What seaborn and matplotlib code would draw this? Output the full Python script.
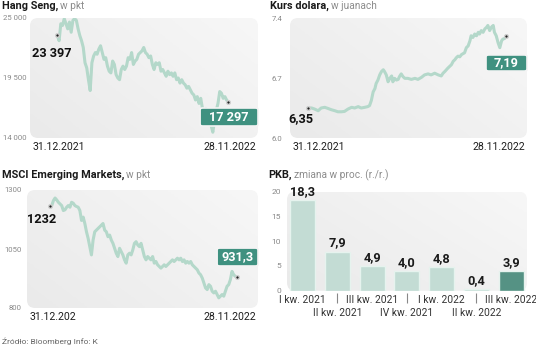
import numpy as np
import pandas as pd
import matplotlib
matplotlib.use("Agg")
import matplotlib.pyplot as plt
import seaborn as sns
from matplotlib.patches import FancyBboxPatch
from matplotlib.colors import LinearSegmentedColormap

# ---------------- data ----------------
hang_seng = [23397, 22918, 24472, 24316, 24938, 24472, 24006, 24627, 23695, 24783,
             24938, 24783, 24006, 23384, 22918, 22297, 20899, 20433, 19345, 18351,
             20899, 21520, 21831, 21676, 22142, 22453, 21831, 21210, 21365, 20588,
             20122, 19967, 21054, 20743, 19811, 19500, 19345, 20278, 20588, 20278,
             20588, 21365, 21210, 21831, 20743, 21054, 21210, 21676, 21831, 21986,
             22297, 21831, 21676, 21365, 21520, 20743, 20278, 20899, 20743, 20899,
             20122, 20278, 19967, 19656, 20122, 19811, 19967, 19656, 19967, 19345,
             19500, 19034, 19345, 19034, 18879, 18568, 18724, 18413, 18103, 17947,
             17481, 17792, 17170, 17636, 16704, 16549, 16704, 16238, 16083, 15151,
             14530, 15617, 16549, 17170, 18258, 18103, 17636, 17792, 17481, 17297]

kurs_days = [0, 6, 11, 17, 22, 28, 33, 39, 45, 50, 56, 61, 67, 73, 78, 84, 89, 95, 100,
             103, 106, 109, 112, 114, 117, 120, 123, 126, 128, 131, 134, 137, 140, 142,
             145, 148, 151, 153, 156, 159, 162, 167, 173, 179, 184, 190, 195, 201, 206,
             212, 218, 223, 226, 229, 234, 240, 243, 246, 248, 251, 254, 257, 262, 265,
             268, 271, 273, 276, 279, 282, 285, 287, 290, 293, 296, 299, 301, 304, 307,
             310, 312, 315, 318, 321, 324, 326, 329, 332]
kurs = [6.350, 6.350, 6.338, 6.318, 6.350, 6.358, 6.346, 6.330, 6.318, 6.306, 6.306,
        6.310, 6.338, 6.358, 6.350, 6.366, 6.350, 6.358, 6.366,
        6.378, 6.438, 6.537, 6.577, 6.636, 6.676, 6.736, 6.776, 6.796, 6.776, 6.736,
        6.656, 6.696, 6.724, 6.656, 6.696, 6.676, 6.684, 6.716, 6.748, 6.716, 6.696,
        6.696, 6.684, 6.696, 6.684, 6.708, 6.736, 6.748, 6.736, 6.756, 6.736, 6.724,
        6.756, 6.776, 6.815, 6.855, 6.895, 6.915, 6.935, 6.955, 6.947, 6.974, 6.994,
        7.054, 7.074, 7.134, 7.193, 7.173, 7.213, 7.193, 7.233, 7.213, 7.253, 7.233,
        7.273, 7.293, 7.313, 7.253, 7.293, 7.313, 7.233, 7.193, 7.114, 7.054, 7.134,
        7.153, 7.161, 7.190]

msci = [1232, 1234, 1255, 1266, 1258, 1248, 1241, 1234, 1213, 1216, 1227, 1234, 1227,
        1248, 1244, 1234, 1230, 1227, 1213, 1171, 1185, 1158, 1123, 1095, 1060, 1025,
        1088, 1123, 1130, 1137, 1144, 1151, 1158, 1130, 1123, 1102, 1109, 1088, 1074,
        1053, 1032, 1018, 1053, 1039, 1025, 1004, 990, 1025, 1032, 1025, 1046, 1074,
        1081, 1067, 1060, 1074, 1046, 1018, 1004, 1018, 1011, 1004, 1018, 990, 997,
        983, 976, 969, 976, 983, 976, 983, 990, 997, 1004, 997, 1004, 1011, 1004, 1011,
        997, 1004, 990, 997, 990, 997, 983, 976, 969, 962, 948, 941, 927, 906, 885, 878,
        899, 892, 871, 864, 871, 857, 843, 850, 857, 850, 871, 892, 899, 920, 955, 941,
        934, 931.3]

pkb_labels = ["I kw. 2021", "II kw. 2021", "III kw. 2021", "IV kw. 2021",
              "I kw. 2022", "II kw. 2022", "III kw. 2022"]
pkb_values = [18.3, 7.9, 4.9, 4.0, 4.8, 0.4, 3.9]
pkb_text = ["18,3", "7,9", "4,9", "4,0", "4,8", "0,4", "3,9"]

# ---------------- style ----------------
sns.set_style("white")
plt.rcParams['font.family'] = ['Roboto', 'DejaVu Sans']
NARROW = ['Liberation Sans Narrow', 'Roboto', 'DejaVu Sans']
REG = ['Roboto', 'DejaVu Sans']

W, H = 536, 346
fig = plt.figure(figsize=(W / 100, H / 100), dpi=100)

LINE_C = '#b4d8ca'
BOX_C = '#3f9180'
TICK_C = '#8a8a8a'


def px_rect(x0, y0, x1, y1):
    return [x0 / W, 1 - y1 / H, (x1 - x0) / W, (y1 - y0) / H]


def make_axes(rect):
    bg = fig.add_axes(rect, zorder=0)
    bg.set_axis_off()
    bg.set_xlim(0, 1)
    bg.set_ylim(0, 1)
    wpx = rect[2] * W
    hpx = rect[3] * H
    patch = FancyBboxPatch((0, 0), 1, 1, boxstyle="round,pad=0,rounding_size=%f" % (8 / wpx),
                           mutation_aspect=wpx / hpx, facecolor='none', edgecolor='none',
                           transform=bg.transAxes)
    bg.add_patch(patch)
    xx, yy = np.meshgrid(np.linspace(0, 1, 64), np.linspace(0, 1, 64))
    g = (xx * 0.6 + yy * 0.4)
    cmap = LinearSegmentedColormap.from_list('bgc', ['#eaeaea', '#f7f7f7'])
    im = bg.imshow(g, extent=(0, 1, 0, 1), origin='lower', cmap=cmap, aspect='auto')
    im.set_clip_path(patch)
    ax = fig.add_axes(rect, zorder=1)
    ax.set_facecolor('none')
    for s in ax.spines.values():
        s.set_visible(False)
    return ax


def title(xpx, ypx, bold, rest):
    t = fig.text(xpx / W, 1 - ypx / H, bold, fontsize=7.8, fontweight='bold', family=NARROW,
                 color='#1a1a1a', va='center', ha='left')
    r = fig.canvas.get_renderer()
    bb = t.get_window_extent(renderer=r)
    fig.text((bb.x1 + 2) / W, 1 - ypx / H, rest, fontsize=7.3, family=REG,
             color='#8c8c8c', va='center', ha='left')


def line_chart(ax, x, y, start_frac, end_frac, ylim, yticks, ylabels, pad,
               start_lbl, end_lbl, start_pos, box, date0):
    sns.lineplot(x=x, y=y, ax=ax, color=LINE_C, linewidth=2.2, zorder=3)
    x0, x1 = x[0], x[-1]
    span = (x1 - x0) / (end_frac - start_frac)
    ax.set_xlim(x0 - start_frac * span, x0 - start_frac * span + span)
    ax.set_ylim(*ylim)
    ax.set_yticks(yticks)
    ax.set_yticklabels(ylabels)
    ax.set_xticks([])
    ax.set_xlabel('')
    ax.set_ylabel('')
    ax.tick_params(axis='y', length=0, pad=pad, labelsize=5.6, labelcolor=TICK_C)
    for lab in ax.get_yticklabels():
        lab.set_family(NARROW)
    ax.scatter([x0, x1], [y[0], y[-1]], s=7, color='#222222', edgecolors='#d0d0d0',
               linewidths=1.0, zorder=5)
    # dates
    ax.text(0.01, -0.075, date0, transform=ax.transAxes, ha='left', va='center',
            fontsize=7.6, color='#1e1e1e', family=REG)
    ax.text(0.99, -0.075, '28.11.2022', transform=ax.transAxes, ha='right', va='center',
            fontsize=7.6, color='#1e1e1e', family=REG)
    # start label
    ax.text(start_pos[0], start_pos[1], start_lbl, transform=ax.transAxes, ha='left',
            va='center', fontsize=9.2, fontweight='bold', family=NARROW, color='#111111',
            zorder=6)
    # end label box
    bx0, by0, bx1, by1 = box
    p = FancyBboxPatch((bx0, by0), bx1 - bx0, by1 - by0, boxstyle="round,pad=0,rounding_size=0.012",
                       transform=ax.transAxes, facecolor=BOX_C, edgecolor='#f4f4f4',
                       linewidth=1.2, zorder=6, clip_on=False)
    ax.add_patch(p)
    ax.text((bx0 + bx1) / 2, (by0 + by1) / 2, end_lbl, transform=ax.transAxes, ha='center',
            va='center', fontsize=9.2, fontweight='bold', family=NARROW, color='white', zorder=7)


# Hang Seng
ax1 = make_axes(px_rect(30, 18, 258, 138))
line_chart(ax1, np.arange(len(hang_seng)), hang_seng, 0.12, 0.87, (14000, 25000),
           [14000, 19500, 25000], ['14 000', '19 500', '25 000'], 2.5,
           '23 397', '17 297', (0.01, 0.708), (0.746, 0.10, 1.0, 0.25), '31.12.2021')
title(2, 6, 'Hang Seng,', 'w pkt')

# Kurs dolara
ax2 = make_axes(px_rect(290, 18, 527, 138))
line_chart(ax2, np.array(kurs_days), kurs, 0.076, 0.913, (6.0, 7.4),
           [6.0, 6.7, 7.4], ['6.0', '6.7', '7.4'], 5.5,
           '6,35', '7,19', (-0.008, 0.164), (0.827, 0.558, 1.0, 0.692), '31.12.2021')
title(270, 6, 'Kurs dolara,', 'w juanach')

# MSCI
ax3 = make_axes(px_rect(27, 190, 258, 308))
line_chart(ax3, np.arange(len(msci)), msci, 0.10, 0.909, (800, 1300),
           [800, 1050, 1300], ['800', '1050', '1300'], 3.6,
           '1232', '931,3', (0.0, 0.752), (0.823, 0.356, 1.0, 0.508), '31.12.202')
title(2, 175, 'MSCI Emerging Markets,', 'w pkt')

# PKB
ax4 = make_axes(px_rect(287, 191.7, 527, 290.7))
df = pd.DataFrame({'kw': pkb_labels, 'v': pkb_values})
palette = {k: '#bfe0d5' for k in pkb_labels}
palette[pkb_labels[-1]] = '#4b9c89'
sns.barplot(data=df, x='kw', y='v', hue='kw', palette=palette, legend=False, width=0.72,
            ax=ax4, edgecolor='#e6f3ee', linewidth=1.0, zorder=3)
for c, t in zip(ax4.containers, pkb_text):
    ax4.bar_label(c, labels=[t], padding=1.5, fontsize=9.2, fontweight='bold',
                  family=NARROW, color='#1a1a1a')
ax4.set_xlim(-0.45, 6.46)
ax4.set_ylim(0, 20)
ax4.set_yticks([0, 5, 10, 15, 20])
ax4.set_yticklabels(['0', '5', '10', '15', '20'])
for lab in ax4.get_yticklabels():
    lab.set_family(NARROW)
ax4.set_xlabel('')
ax4.set_ylabel('')
major = [i for i in range(len(pkb_labels)) if i % 2 == 0]
minor = [i for i in range(len(pkb_labels)) if i % 2 == 1]
ax4.set_xticks(major)
ax4.set_xticklabels([pkb_labels[i] for i in major])
ax4.set_xticks(minor, minor=True)
ax4.set_xticklabels([pkb_labels[i] for i in minor], minor=True)
ax4.tick_params(axis='y', length=0, pad=4.3, labelsize=6, labelcolor=TICK_C)
ax4.tick_params(axis='x', which='major', length=0, pad=3, labelsize=7.4, labelcolor='#333333')
ax4.tick_params(axis='x', which='minor', length=0, pad=12.5, labelsize=7.4, labelcolor='#333333')
ax4.vlines(minor, -0.023, -0.124, transform=ax4.get_xaxis_transform(), clip_on=False,
           color='#888888', linewidth=0.8)
title(268, 175, 'PKB,', 'zmiana w proc. (r./r.)')

fig.text(2 / W, 1 - 341 / H, 'Źródło: Bloomberg Info: K', fontsize=6, color='#666666',
         family=REG, va='center', ha='left')

fig.savefig('out.png', dpi=100)
